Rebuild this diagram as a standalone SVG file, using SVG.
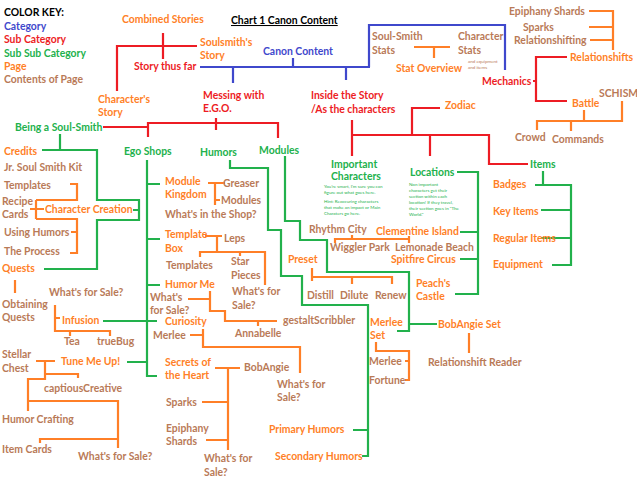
<svg xmlns="http://www.w3.org/2000/svg" width="637" height="480" viewBox="0 0 637 480">
<style>
text{font-family:Lato,"Open Sans",sans-serif;font-weight:bold;font-size:10.4px}
.k{fill:#000}.b{fill:#3f48cc}.r{fill:#ed1c24}.g{fill:#22b14c}.o{fill:#ff7f27}.n{fill:#b97a57}
.s{font-size:4.5px;font-weight:normal}
line,polyline,path{fill:none;stroke-width:2.2}
.lb{stroke:#3f48cc}.lr{stroke:#ed1c24}.lg{stroke:#22b14c}.lo{stroke:#ff7f27}
</style>
<rect width="637" height="480" fill="#fff"/>
<g id="connectors">
<path class="lb" d="M200,67H370M233,67V83M293,58V67M346,67V80M369,67V25H505V70"/>
<path class="lo" d="M414,47H450M434,47V58"/>
<path class="lr" d="M163,33V59M117,91V46H197"/>
<path class="lr" d="M103,127H148M148,137V123H278V138M216,118V130"/>
<path class="lr" d="M352,156V120M352,135H489V164H528M412,135V108H440M430,135V156"/>
<path class="lr" d="M533,81H536M567,57H536V101H567"/>
<path class="lo" d="M589,11H613V50M589,27H613M590,40H613"/>
<path class="lo" d="M584,110V121M537,130V121H622V101M571,121V131"/>
<path class="lg" d="M60,134V150M42,150H97V200H139V220H97V269H44M133,210H139"/>
<path class="lo" d="M36,200H77V184H70M36,219H77V253H70M77,232H71M36,200V219M30,209H36M37,209H44"/>
<path class="lo" d="M15,280V293"/>
<path class="lo" d="M55,305V331H110V336M70,331V336M60,318H55"/>
<path class="lg" d="M103,321H157"/>
<path class="lg" d="M147,160V376H157M147,184H160M147,239H160M147,285H160M127,362H147"/>
<path class="lo" d="M208,183H225M215,183V205M215,200H220"/>
<path class="lo" d="M205,236H222M217,236V252M200,257V252H265V285M240,252V256"/>
<path class="lo" d="M188,299H210M210,291V311H225V321H277M258,321V326"/>
<path class="lo" d="M190,335H203M203,329V347H300V373"/>
<path class="lo" d="M215,368H240M228,368V450M202,402H228M206,440H228"/>
<path class="lo" d="M36,361H55M45,361V379H28V411M45,374H78V378M28,401H118V448M40,443V439H118"/>
<path class="lg" d="M230,160V168H268V230H281V276H302V305H368V456H362M353,430H368"/>
<path class="lg" d="M285,156V221H300V240H327V272H409V331H397M409,324H437"/>
<path class="lo" d="M312,268V281M312,277H392V284M352,277V284"/>
<path class="lo" d="M335,243V239H409M352,235V239M409,236V243"/>
<path class="lg" d="M457,172H478V294H455M460,232H478M460,259H478"/>
<path class="lg" d="M543,171V185M535,185H571V265H552M541,210H571M541,238H571"/>
<path class="lo" d="M376,342V351H409V380H405M405,361H409M469,333V353"/>
</g>
<g id="key">
<text class="k" x="4" y="16">COLOR KEY:</text>
<text class="b" x="4" y="30">Category</text>
<text class="r" x="4" y="43">Sub Category</text>
<text class="g" x="4" y="57">Sub Sub Category</text>
<text class="o" x="4" y="70">Page</text>
<text class="n" x="4" y="83">Contents of Page</text>
<text class="k" x="231" y="24" text-decoration="underline">Chart 1 Canon Content</text>
</g>
<g id="top">
<text class="o" x="122" y="23">Combined Stories</text>
<text class="o" x="200" y="46">Soulsmith's</text><text class="o" x="200" y="59">Story</text>
<text class="r" x="134" y="70">Story thus far</text>
<text class="b" x="263" y="55">Canon Content</text>
<text class="o" x="98" y="103">Character's</text><text class="o" x="98" y="116">Story</text>
<text class="r" x="203" y="99">Messing with</text><text class="r" x="203" y="112">E.G.O.</text>
<text class="r" x="311" y="99">Inside the Story</text><text class="r" x="311" y="113">/As the characters</text>
<text class="n" x="372" y="40">Soul-Smith</text><text class="n" x="372" y="54">Stats</text>
<text class="n" x="458" y="40">Character</text><text class="n" x="458" y="54">Stats</text>
<text class="n s" x="468" y="63">and equipment</text><text class="n s" x="468" y="69">and items</text>
<text class="o" x="396" y="72">Stat Overview</text>
<text class="n" x="509" y="15">Epiphany Shards</text>
<text class="n" x="523" y="31">Sparks</text>
<text class="n" x="514" y="44">Relationshifting</text>
<text class="o" x="570" y="61">Relationshifts</text>
<text class="r" x="482" y="85">Mechanics</text>
<text class="n" x="599" y="97">SCHISM</text>
<text class="o" x="572" y="107">Battle</text>
<text class="n" x="515" y="141">Crowd</text>
<text class="n" x="552" y="143">Commands</text>
<text class="o" x="445" y="109">Zodiac</text>
</g>
<g id="left">
<text class="g" x="15" y="131">Being a Soul-Smith</text>
<text class="o" x="4" y="155">Credits</text>
<text class="n" x="4" y="171">Jr. Soul Smith Kit</text>
<text class="n" x="4" y="189">Templates</text>
<text class="n" x="2" y="205">Recipe</text><text class="n" x="2" y="218">Cards</text>
<text class="o" x="45" y="213">Character Creation</text>
<text class="n" x="4" y="236">Using Humors</text>
<text class="n" x="4" y="255">The Process</text>
<text class="o" x="2" y="272">Quests</text>
<text class="n" x="49" y="296">What's for Sale?</text>
<text class="n" x="2" y="308">Obtaining</text><text class="n" x="2" y="321">Quests</text>
<text class="o" x="62" y="324">Infusion</text>
<text class="n" x="64" y="345">Tea</text>
<text class="n" x="97" y="345">trueBug</text>
<text class="n" x="2" y="358">Stellar</text><text class="n" x="2" y="372">Chest</text>
<text class="o" x="61" y="365">Tune Me Up!</text>
<text class="n" x="44" y="392">captiousCreative</text>
<text class="n" x="2" y="423">Humor Crafting</text>
<text class="n" x="2" y="453">Item Cards</text>
<text class="n" x="78" y="460">What's for Sale?</text>
</g>
<g id="middle">
<text class="g" x="124" y="155">Ego Shops</text>
<text class="g" x="200" y="156">Humors</text>
<text class="g" x="259" y="154">Modules</text>
<text class="o" x="165" y="185">Module</text><text class="o" x="165" y="198">Kingdom</text>
<text class="n" x="223" y="187">Greaser</text>
<text class="n" x="221" y="204">Modules</text>
<text class="n" x="165" y="218">What's in the Shop?</text>
<text class="o" x="165" y="238">Template</text><text class="o" x="165" y="252">Box</text>
<text class="n" x="224" y="242">Leps</text>
<text class="n" x="166" y="269">Templates</text>
<text class="n" x="231" y="265">Star</text><text class="n" x="231" y="279">Pieces</text>
<text class="n" x="232" y="295">What's for</text><text class="n" x="232" y="309">Sale?</text>
<text class="o" x="165" y="288">Humor Me</text>
<text class="n" x="150" y="301">What's</text><text class="n" x="150" y="314">for Sale?</text>
<text class="o" x="165" y="325">Curiosity</text>
<text class="n" x="153" y="339">Merlee</text>
<text class="n" x="283" y="324">gestaltScribbler</text>
<text class="n" x="235" y="337">Annabelle</text>
<text class="o" x="165" y="366">Secrets of</text><text class="o" x="165" y="379">the Heart</text>
<text class="n" x="244" y="371">BobAngie</text>
<text class="n" x="277" y="388">What's for</text><text class="n" x="277" y="401">Sale?</text>
<text class="n" x="166" y="406">Sparks</text>
<text class="n" x="166" y="432">Epiphany</text><text class="n" x="166" y="445">Shards</text>
<text class="n" x="204" y="462">What's for</text><text class="n" x="204" y="476">Sale?</text>
</g>
<g id="right">
<text class="g" x="331" y="168">Important</text><text class="g" x="331" y="180">Characters</text>
<text class="g s" x="324" y="188">You're smart, I'm sure you can</text>
<text class="g s" x="324" y="194">figure out what goes here.</text>
<text class="g s" x="324" y="203">Hint: Reoccuring characters</text>
<text class="g s" x="324" y="209">that make an impact or Main</text>
<text class="g s" x="324" y="215">Charaters go here.</text>
<text class="g" x="410" y="176">Locations</text>
<text class="g s" x="409" y="186">Non important</text>
<text class="g s" x="409" y="192">characters get their</text>
<text class="g s" x="409" y="198">section within each</text>
<text class="g s" x="409" y="204">location! If they travel,</text>
<text class="g s" x="409" y="210">their section goes in "The</text>
<text class="g s" x="409" y="216">World."</text>
<text class="g" x="530" y="168">Items</text>
<text class="o" x="493" y="188">Badges</text>
<text class="o" x="493" y="215">Key Items</text>
<text class="o" x="493" y="242">Regular Items</text>
<text class="o" x="493" y="268">Equipment</text>
<text class="n" x="309" y="233">Rhythm City</text>
<text class="o" x="376" y="235">Clementine Island</text>
<text class="n" x="330" y="251">Wiggler Park</text>
<text class="n" x="395" y="251">Lemonade Beach</text>
<text class="o" x="391" y="263">Spitfire Circus</text>
<text class="o" x="288" y="263">Preset</text>
<text class="n" x="307" y="299">Distill</text>
<text class="n" x="340" y="299">Dilute</text>
<text class="n" x="375" y="299">Renew</text>
<text class="o" x="416" y="287">Peach's</text><text class="o" x="416" y="300">Castle</text>
<text class="o" x="370" y="326">Merlee</text><text class="o" x="370" y="339">Set</text>
<text class="o" x="438" y="328">BobAngie Set</text>
<text class="n" x="428" y="366">Relationshift Reader</text>
<text class="n" x="369" y="365">Merlee</text>
<text class="n" x="369" y="384">Fortune</text>
<text class="o" x="269" y="433">Primary Humors</text>
<text class="o" x="275" y="460">Secondary Humors</text>
</g>
</svg>
